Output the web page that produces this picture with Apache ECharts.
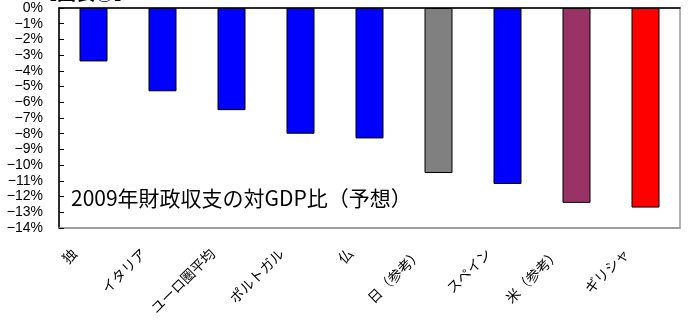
<!DOCTYPE html>
<html>
<head>
<meta charset="utf-8">
<script src="https://cdn.jsdelivr.net/npm/echarts@6/dist/echarts.min.js"></script>
<style>
  html, body { margin: 0; padding: 0; background: #fff; }
  #chart { width: 693px; height: 323px; }
</style>
</head>
<body>
<div id="chart"></div>
<script>
    // 2009 fiscal balance vs GDP (forecast), %
    var countries = ['独', 'イタリア', 'ユーロ圏平均', 'ポルトガル', '仏', '日（参考）', 'スペイン', '米（参考）', 'ギリシャ'];
    var balance = [-3.4, -5.3, -6.5, -8.0, -8.3, -10.5, -11.2, -12.4, -12.7];
    var barColors = ['#0000ff', '#0000ff', '#0000ff', '#0000ff', '#0000ff', '#808080', '#0000ff', '#993366', '#ff0000'];

    var font = '"Liberation Sans", Arial, "Noto Sans CJK JP", sans-serif';
    var jpFont = '"Noto Sans CJK JP", sans-serif';

    var chart = echarts.init(document.getElementById('chart'));

    var barData = [];
    for (var i = 0; i < balance.length; i++) {
        barData.push({
            value: balance[i],
            itemStyle: { color: barColors[i] }
        });
    }

    var graphics = [{
        type: 'text',
        left: 38, top: -17,
        style: { text: '【図表⑥】', font: 'bold 19px ' + jpFont, fill: '#000' }
    }, {
        type: 'text',
        left: 71, top: 188,
        style: { text: '2009年財政収支の対GDP比（予想）', font: '21px ' + jpFont, fill: '#000' }
    }];

    var option = {
        animation: false,
        backgroundColor: '#fff',
        grid: {
            left: 59, top: 8, right: 13, bottom: 95,
            show: true, borderColor: '#999', borderWidth: 1.5,
            containLabel: false
        },
        graphic: graphics,
        xAxis: [{
            type: 'category',
            data: countries,
            position: 'bottom',
            axisLine: { onZero: false, lineStyle: { color: '#999', width: 1.5 } },
            axisTick: { show: false },
            axisLabel: { show: false }
        }, {
            type: 'category',
            data: countries,
            position: 'top',
            axisLine: { onZero: false, lineStyle: { color: '#000', width: 1.5 } },
            axisTick: { show: false },
            axisLabel: { show: false }
        }],
        yAxis: {
            type: 'value',
            min: -14,
            max: 0,
            interval: 1,
            axisLine: { show: true, lineStyle: { color: '#000', width: 1.5 } },
            axisTick: { show: true, inside: true, length: 5, lineStyle: { color: '#000' } },
            splitLine: { show: false },
            axisLabel: {
                margin: 16,
                color: '#000',
                fontSize: 14,
                fontFamily: font,
                formatter: function (v) {
                    return v === 0 ? '0%' : '\u2212' + Math.abs(v) + '%';
                }
            }
        },
        series: [{
            type: 'bar',
            xAxisIndex: 0,
            data: barData,
            barWidth: 28,
            itemStyle: { borderColor: '#000', borderWidth: 1 }
        }]
    };

    chart.setOption(option);

    // category labels at 45deg, placed from the axis scale (Excel-style anchor left of the tick)
    var axisY = chart.convertToPixel({ yAxisIndex: 0 }, -14);
    for (var k = 0; k < countries.length; k++) {
        var cx = chart.convertToPixel({ xAxisIndex: 0 }, countries[k]);
        graphics.push({
            type: 'text',
            x: cx - 19,
            y: axisY + 23,
            rotation: Math.PI / 4,
            style: {
                text: countries[k],
                font: '14px ' + jpFont,
                fill: '#000',
                align: 'right',
                verticalAlign: 'middle'
            }
        });
    }
    chart.setOption({ graphic: graphics });
</script>
</body>
</html>
